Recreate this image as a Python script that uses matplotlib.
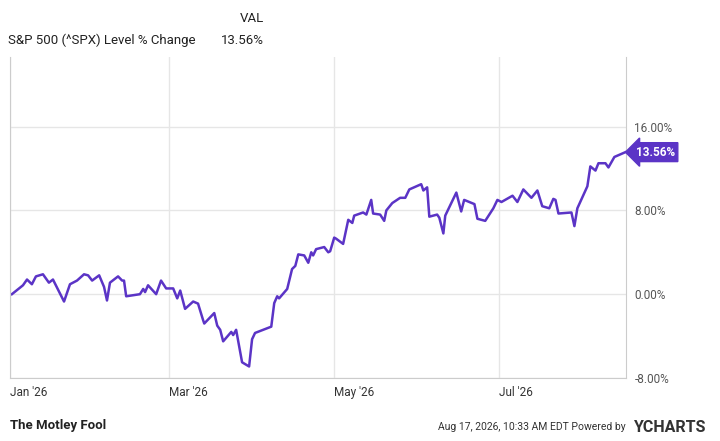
import matplotlib
matplotlib.use("Agg")
import matplotlib.pyplot as plt

plt.rcParams['font.family'] = ['Roboto', 'DejaVu Sans']

days = [0.7,4.8,6.3,8.1,9.6,12.2,14.4,15.9,20,22.2,24.8,27.4,28.9,30.4,33,34.8,35.9,37,40,41.5,42.2,43,48.1,49.3,50,51.1,54.1,55.9,57.8,60.4,61.9,63,64.8,67.8,69.6,71.5,71.9,75.6,76.7,77.8,78.9,81.9,82.6,83.7,85.9,88.5,89.6,90.7,96.7,97.8,98.9,99.6,102.6,104.4,105.6,106.7,108.9,110.4,111.5,112.2,113.3,116.3,117.8,118.5,120,120.7,123.3,125.2,126.7,127.4,130.7,131.9,133.7,134.4,137,138.5,139.3,141.5,144.4,146.3,147.8,152.2,153,154.4,155.2,158.1,158.9,160.4,161.1,165.2,167,168.1,171.9,173,175.9,178.9,180.4,181.9,186,187.8,190,193,195.2,197,199.6,201.1,201.9,203,207.8,208.9,210,213.7,214.8,216.7,217.8,220.4,221.5,223.7,227.8]
pct = [0,0.85,1.4,0.95,1.7,1.9,1.1,1.4,-0.7,0.95,1.3,1.9,1.8,1.3,1.8,0.7,-0.6,1.1,1.7,1.3,1.3,-0.2,0,0.5,0.2,0.85,0,1.3,0.55,0.55,-0.4,0.35,-1.4,-0.7,-0.9,-2.5,-2.8,-1.8,-3.0,-3.4,-4.5,-3.6,-3.9,-3.4,-6.5,-6.9,-4.3,-3.7,-3.1,-0.85,-0.2,-0.4,0.5,2.4,2.7,3.8,3.7,3.0,4.0,3.7,4.3,4.5,4.0,4.1,5.4,5.3,4.8,7.1,6.8,7.5,7.8,7.6,9.0,7.7,7.6,7.0,8.0,8.7,9.2,9.2,10.0,10.5,9.9,10.2,7.4,7.6,7.3,5.8,7.5,9.7,7.9,9.0,8.6,7.2,7.0,8.2,9.0,8.8,9.4,8.8,10.0,9.2,9.9,8.4,8.2,9.1,9.0,7.7,7.8,6.5,8.2,10.3,12.2,11.8,12.5,12.5,12.1,13.1,13.56]
xtick_days = [0, 59, 120, 181]
xtick_labels = ["Jan '26", "Mar '26", "May '26", "Jul '26"]
yticks = [-8, 0, 8, 16]
ytick_labels = ["-8.00%", "0.00%", "8.00%", "16.00%"]
last_label = "13.56%"

W, H = 720, 441
fig = plt.figure(figsize=(7.2, 4.41), dpi=100)
ax = fig.add_axes([10/W, 1-378/H, 616/W, 321/H])
purple = "#5b34c6"
ax.plot(days, pct, color=purple, lw=1.8, solid_joinstyle="round")
ax.set_xlim(0, 228)
ax.set_ylim((297-378)/10.6, (297-57)/10.6)
ax.set_xticks(xtick_days)
ax.set_xticklabels(xtick_labels, ha="left", color="#333333", fontsize=8.5)
ax.tick_params(axis="x", length=0, pad=6)
ax.yaxis.tick_right()
ax.set_yticks(yticks)
ax.set_yticklabels(ytick_labels, color="#555555", fontsize=8.5)
ax.tick_params(axis="y", length=0, pad=6)
ax.grid(True, color="#e6e6e6", lw=1)
ax.spines["top"].set_visible(False)
for s in ["left", "right", "bottom"]:
    ax.spines[s].set_color("#cccccc")

ax.annotate(last_label, xy=(228, pct[-1]), xytext=(7, 0), textcoords="offset points",
            va="center", ha="left", color="white", fontsize=8.5, fontweight="bold",
            bbox=dict(boxstyle="larrow,pad=0.25", fc=purple, ec=purple),
            annotation_clip=False)

fig.text(240/W, 1-18/H, "VAL", fontsize=9.5, color="#222222", va="center")
fig.text(8/W, 1-40/H, "S&P 500 (^SPX) Level % Change", fontsize=9.5, color="#222222", va="center")
fig.text(221/W, 1-40/H, "13.56%", fontsize=9.5, color="#222222", va="center")
fig.text(10/W, 1-425/H, "The Motley Fool", fontsize=9.5, fontweight="bold", color="#222222", va="center")
fig.text(438/W, 1-427/H, "Aug 17, 2026, 10:33 AM EDT Powered by", fontsize=7.5, color="#333333", va="center")
fig.text(634/W, 1-427/H, "YCHARTS", fontsize=11.5, fontweight="bold", color="#333333", va="center")
fig.savefig("out.png", dpi=100)
